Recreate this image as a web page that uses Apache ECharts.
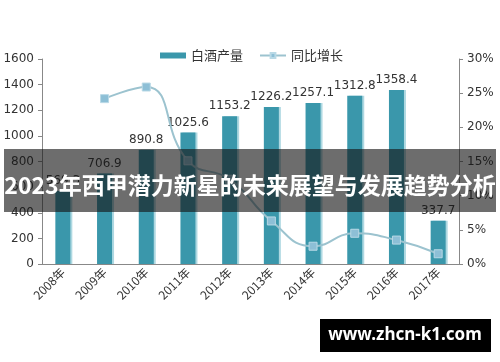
<!DOCTYPE html>
<html><head><meta charset="utf-8">
<script src="https://cdn.jsdelivr.net/npm/echarts@6/dist/echarts.min.js"></script>
<style>html,body{margin:0;padding:0;background:#fff}#c{width:500px;height:362px}</style>
</head><body><div id="c"></div>
<script>
var categories = ['2008年','2009年','2010年','2011年','2012年','2013年','2014年','2015年','2016年','2017年'];
var production = [569.3, 706.9, 890.8, 1025.6, 1153.2, 1226.2, 1257.1, 1312.8, 1358.4, 337.7];
var growth = [null, 24.2, 25.9, 15.1, 12.4, 6.3, 2.6, 4.5, 3.5, 1.5];
var leftTicks = [0, 1600, 200];
var rightTicks = [0, 30, 5];
var titleText = '2023年西甲潜力新星的未来展望与发展趋势分析';
var siteText = 'www.zhcn-k1.com';

var chart = echarts.init(document.getElementById('c'));
var numFont = 'DejaVu Sans';
var cjk = '"Noto Sans CJK SC", sans-serif';
chart.setOption({
  animation: false,
  legend: {
    top: 44, left: 155, itemGap: 16, itemWidth: 26, itemHeight: 6,
    textStyle: {fontFamily: cjk, fontSize: 13, color: '#333'},
    data: [{name: '白酒产量', icon: 'rect'}, {name: '同比增长'}]
  },
  grid: {left: 42, right: 41, top: 59, bottom: 98},
  xAxis: {
    type: 'category', data: categories,
    axisLine: {lineStyle: {color: '#888'}},
    axisTick: {lineStyle: {color: '#888'}, length: 4},
    axisLabel: {rotate: 45, fontFamily: cjk, fontSize: 12, color: '#333', margin: 6}
  },
  yAxis: [{
    type: 'value', min: leftTicks[0], max: leftTicks[1], interval: leftTicks[2],
    axisLine: {show: true, lineStyle: {color: '#888'}},
    axisTick: {show: true, length: 4, lineStyle: {color: '#888'}},
    splitLine: {show: false},
    axisLabel: {fontFamily: numFont, fontSize: 12, color: '#333', margin: 8, formatter: function(v){return String(v);}}
  }, {
    type: 'value', min: rightTicks[0], max: rightTicks[1], interval: rightTicks[2], position: 'right',
    axisLine: {show: true, lineStyle: {color: '#888'}},
    axisTick: {show: true, length: 4, lineStyle: {color: '#888'}},
    splitLine: {show: false},
    axisLabel: {fontFamily: numFont, fontSize: 12, color: '#333', margin: 8, formatter: '{value}%'}
  }],
  series: [{
    name: '白酒产量', type: 'bar', data: production, barWidth: 15,
    itemStyle: {color: '#3a97ab', shadowColor: 'rgba(120,190,205,0.6)', shadowOffsetX: 2, shadowBlur: 0},
    label: {show: true, position: 'top', fontFamily: numFont, fontSize: 12, color: '#333', distance: 4,
      formatter: function(p){return p.value.toFixed(1);}}
  }, {
    name: '同比增长', type: 'line', yAxisIndex: 1, data: growth, smooth: true,
    symbol: 'rect', symbolSize: 8,
    lineStyle: {color: '#9cc3cf', width: 2},
    itemStyle: {color: '#8dbfd6', borderColor: '#b9d9e6', borderWidth: 1}
  }],
  graphic: [
    {type: 'rect', shape: {x: 4, y: 149, width: 492, height: 63}, style: {fill: 'rgba(20,20,20,0.62)'}, z: 100},
    {type: 'text', x: 250, y: 185, z: 101, style: {text: titleText, fill: '#fff', font: 'bold 23px "Noto Sans CJK SC", sans-serif', textAlign: 'center', textVerticalAlign: 'middle'}},
    {type: 'rect', shape: {x: 320, y: 319, width: 171, height: 33}, style: {fill: '#000'}, z: 100},
    {type: 'text', x: 405, y: 335, z: 101, style: {text: siteText, fill: '#fff', font: 'bold 17px "Noto Sans", sans-serif', textAlign: 'center', textVerticalAlign: 'middle'}}
  ]
});
</script></body></html>
